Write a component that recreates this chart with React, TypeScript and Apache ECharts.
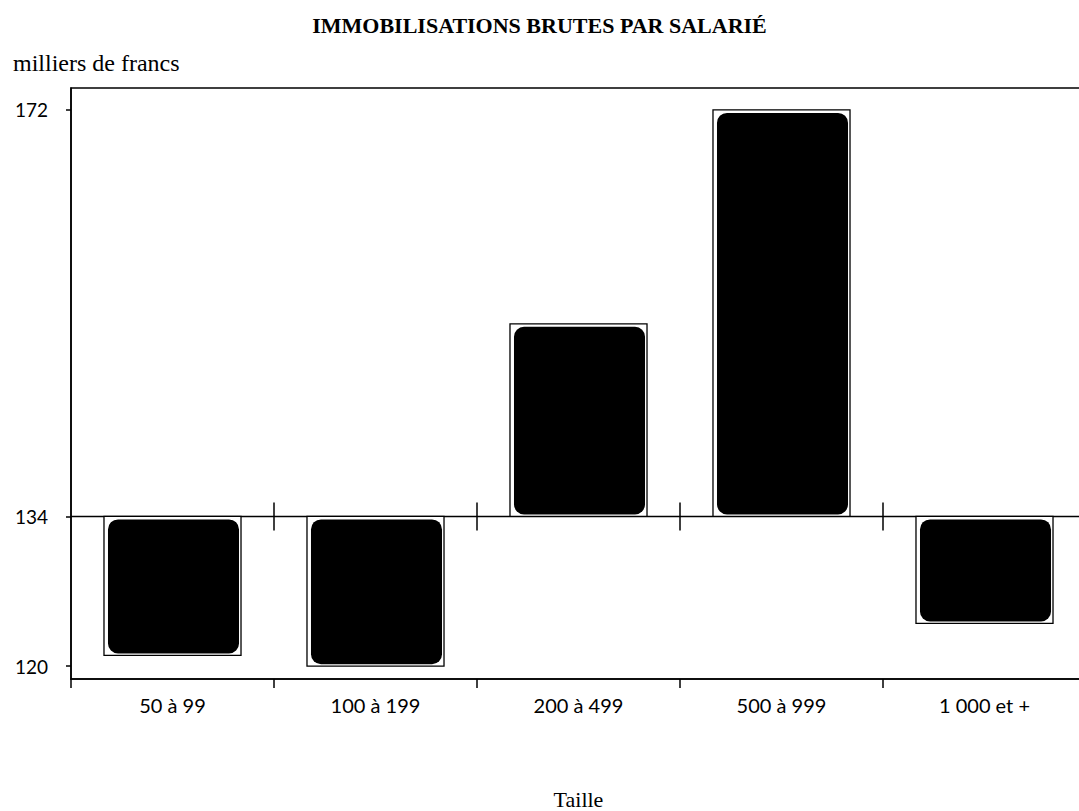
import React, { useEffect, useRef } from "react";
import * as echarts from "echarts";

const TITLE = "IMMOBILISATIONS BRUTES PAR SALARIÉ";
const UNIT_LABEL = "milliers de francs";
const X_NAME = "Taille";
const categories = ["50 à 99", "100 à 199", "200 à 499", "500 à 999", "1 000 et +"];
const values = [121, 120, 152, 172, 124];
const BASELINE = 134;
const yTicks = [120, 134, 172];
const Y_MIN = 118.8;
const Y_MAX = 174.05;

export default function App() {
  const ref = useRef<HTMLDivElement>(null);
  useEffect(() => {
    if (!ref.current) return;
    const chart = echarts.init(ref.current, null, { renderer: "svg" });
    const serif = "'Liberation Serif', 'DejaVu Serif', serif";
    const sans = "Lato, 'Open Sans', sans-serif";
    chart.setOption({
      animation: false,
      backgroundColor: "#fff",
      title: [
        {
          text: TITLE,
          left: "center",
          top: 9,
          textStyle: { fontFamily: serif, fontWeight: "bold", fontSize: 22, color: "#000" },
        },
        {
          text: UNIT_LABEL,
          left: 8,
          top: 46,
          textStyle: { fontFamily: serif, fontWeight: "normal", fontSize: 24, color: "#000" },
        },
      ],
      grid: {
        left: 71,
        top: 88,
        width: 1015,
        height: 591,
        outerBoundsMode: "none",
        containLabel: false,
        show: true,
        borderColor: "#000",
        borderWidth: 1.5,
        backgroundColor: "transparent",
      },
      xAxis: {
        type: "category",
        data: categories,
        boundaryGap: true,
        axisLine: { lineStyle: { color: "#000", width: 1.5 } },
        axisTick: { show: true, length: 9, lineStyle: { color: "#000", width: 1.5 } },
        axisLabel: { color: "#000", fontFamily: sans, fontSize: 20, margin: 16 },
        splitLine: { show: false },
        name: X_NAME,
        nameLocation: "middle",
        nameGap: 109,
        nameTextStyle: { color: "#000", fontFamily: serif, fontSize: 22 },
      },
      yAxis: {
        type: "value",
        min: Y_MIN,
        max: Y_MAX,
        axisLine: { show: true, lineStyle: { color: "#000", width: 1.5 } },
        axisTick: { show: true, length: 5, customValues: yTicks, lineStyle: { color: "#000", width: 1.5 } },
        axisLabel: { color: "#000", fontFamily: sans, fontSize: 19, margin: 23, customValues: yTicks },
        splitLine: { show: false },
      },
      series: [
        {
          type: "custom",
          coordinateSystem: "cartesian2d",
          encode: { x: 0, y: 1 },
          data: values.map((v, i) => [i, v]),
          renderItem: (params: any, api: any) => {
            const i = api.value(0);
            const v = api.value(1);
            const base = api.coord([i, BASELINE]);
            const end = api.coord([i, v]);
            const catW = api.size([1, 0])[0];
            const bw = catW * 0.675;
            const x0 = base[0] - bw / 2;
            const y0 = Math.min(base[1], end[1]);
            const h = Math.abs(base[1] - end[1]);
            const children: any[] = [
              {
                type: "line",
                shape: { x1: base[0] - catW / 2, y1: base[1], x2: base[0] + catW / 2, y2: base[1] },
                style: { stroke: "#000", lineWidth: 1.5 },
              },
              {
                type: "rect",
                shape: { x: x0, y: y0, width: bw, height: h },
                style: { fill: "#fff", stroke: "#000", lineWidth: 1.3 },
              },
              {
                type: "rect",
                shape: { x: x0 + 4, y: y0 + 3, width: bw - 6, height: h - 5, r: 10 },
                style: { fill: "#000" },
              },
            ];
            if (i < categories.length - 1) {
              children.push({
                type: "line",
                shape: { x1: base[0] + catW / 2, y1: base[1] - 14, x2: base[0] + catW / 2, y2: base[1] + 14 },
                style: { stroke: "#000", lineWidth: 1.5 },
              });
            }
            return { type: "group", children };
          },
        },
      ],
    });
    return () => chart.dispose();
  }, []);
  return (
    <div
      ref={ref}
      style={{ position: "absolute", left: 0, top: 0, width: 1079, height: 811 }}
    />
  );
}
